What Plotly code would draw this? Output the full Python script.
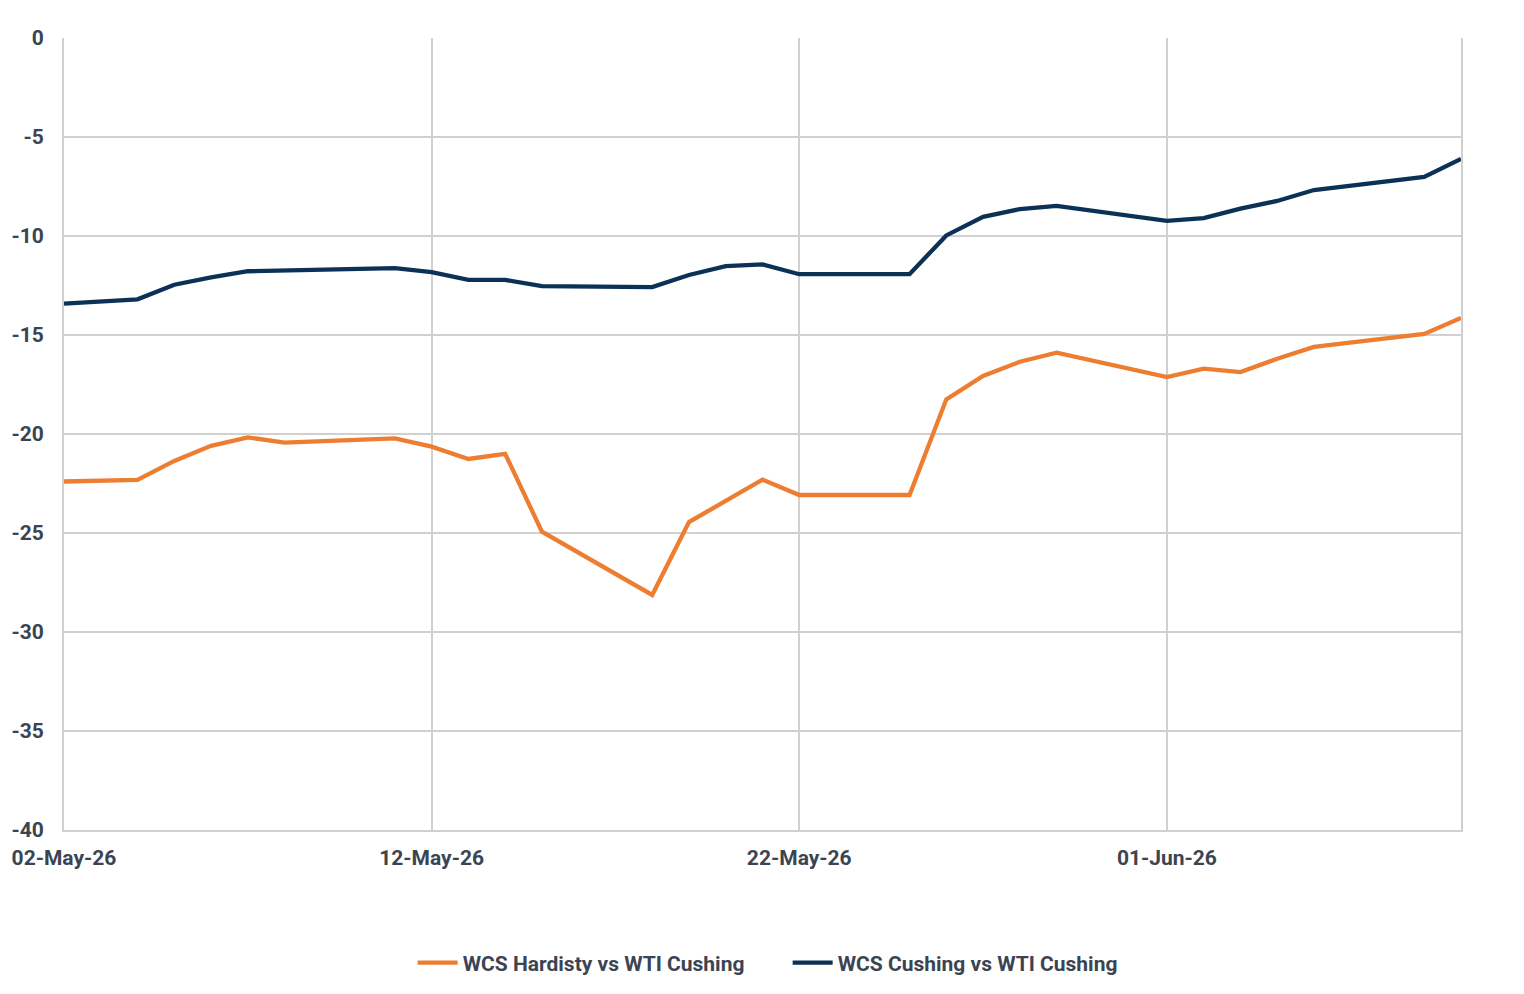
import plotly.graph_objects as go

dates = ["2026-05-02", "2026-05-04", "2026-05-05", "2026-05-06", "2026-05-07", "2026-05-08",
         "2026-05-11", "2026-05-12", "2026-05-13", "2026-05-14", "2026-05-15",
         "2026-05-18", "2026-05-19", "2026-05-20", "2026-05-21", "2026-05-22",
         "2026-05-25", "2026-05-26", "2026-05-27", "2026-05-28", "2026-05-29",
         "2026-06-01", "2026-06-02", "2026-06-03", "2026-06-04", "2026-06-05",
         "2026-06-08", "2026-06-09"]

wcs_hardisty = [-22.4, -22.32, -21.36, -20.6, -20.17, -20.44,
                -20.22, -20.64, -21.26, -21.0, -24.93,
                -28.13, -24.45, -23.35, -22.3, -23.08,
                -23.08, -18.25, -17.07, -16.35, -15.89,
                -17.12, -16.7, -16.87, -16.2, -15.6,
                -14.95, -14.14]

wcs_cushing = [-13.42, -13.2, -12.46, -12.09, -11.78, -11.73,
               -11.62, -11.82, -12.22, -12.22, -12.53,
               -12.58, -11.97, -11.52, -11.43, -11.93,
               -11.93, -9.97, -9.03, -8.64, -8.48,
               -9.24, -9.1, -8.62, -8.23, -7.68,
               -7.02, -6.11]

series_names = ["WCS Hardisty vs WTI Cushing", "WCS Cushing vs WTI Cushing"]
series_colors = ["#ED7D31", "#0C3157"]

y_tick_values = [0, -5, -10, -15, -20, -25, -30, -35, -40]
y_tick_labels = ["0", "-5", "-10", "-15", "-20", "-25", "-30", "-35", "-40"]
x_tick_values = ["2026-05-02", "2026-05-12", "2026-05-22", "2026-06-01"]
x_tick_labels = ["02-May-26", "12-May-26", "22-May-26", "01-Jun-26"]

text_color = "#3B4452"
grid_color = "#D0D0D0"
tick_font = dict(family="Roboto", size=21, color=text_color, weight="bold")

fig = go.Figure()
for name, vals, col in zip(series_names, [wcs_hardisty, wcs_cushing], series_colors):
    fig.add_trace(go.Scatter(x=dates, y=vals, mode="lines", name=name,
                             line=dict(color=col, width=4.3)))

fig.update_layout(
    width=1524, height=994,
    margin=dict(l=64, r=63, t=38, b=164, autoexpand=False),
    paper_bgcolor="white", plot_bgcolor="white",
    font=dict(family="Roboto", size=21, color=text_color, weight="bold"),
    showlegend=True,
    legend=dict(orientation="h", x=0.518, xanchor="center", y=-0.168, yanchor="middle",
                font=dict(family="Roboto", size=21, color=text_color, weight="bold"),
                itemwidth=40, entrywidth=320, traceorder="normal"),
    xaxis=dict(type="date", range=["2026-05-02", "2026-06-09"],
               tickmode="array", tickvals=x_tick_values, ticktext=x_tick_labels,
               showgrid=True, gridcolor=grid_color, gridwidth=2,
               showline=True, linecolor=grid_color, linewidth=2,
               zeroline=False, ticks="", ticklabelstandoff=8, automargin=False,
               tickfont=tick_font),
    yaxis=dict(range=[-40, 0], tickmode="array", tickvals=y_tick_values, ticktext=y_tick_labels,
               showgrid=True, gridcolor=grid_color, gridwidth=2,
               showline=True, linecolor=grid_color, linewidth=2, mirror=True,
               zeroline=False, ticks="", ticklabelstandoff=14, automargin=False,
               tickfont=tick_font),
)

fig.write_html("out.html")
